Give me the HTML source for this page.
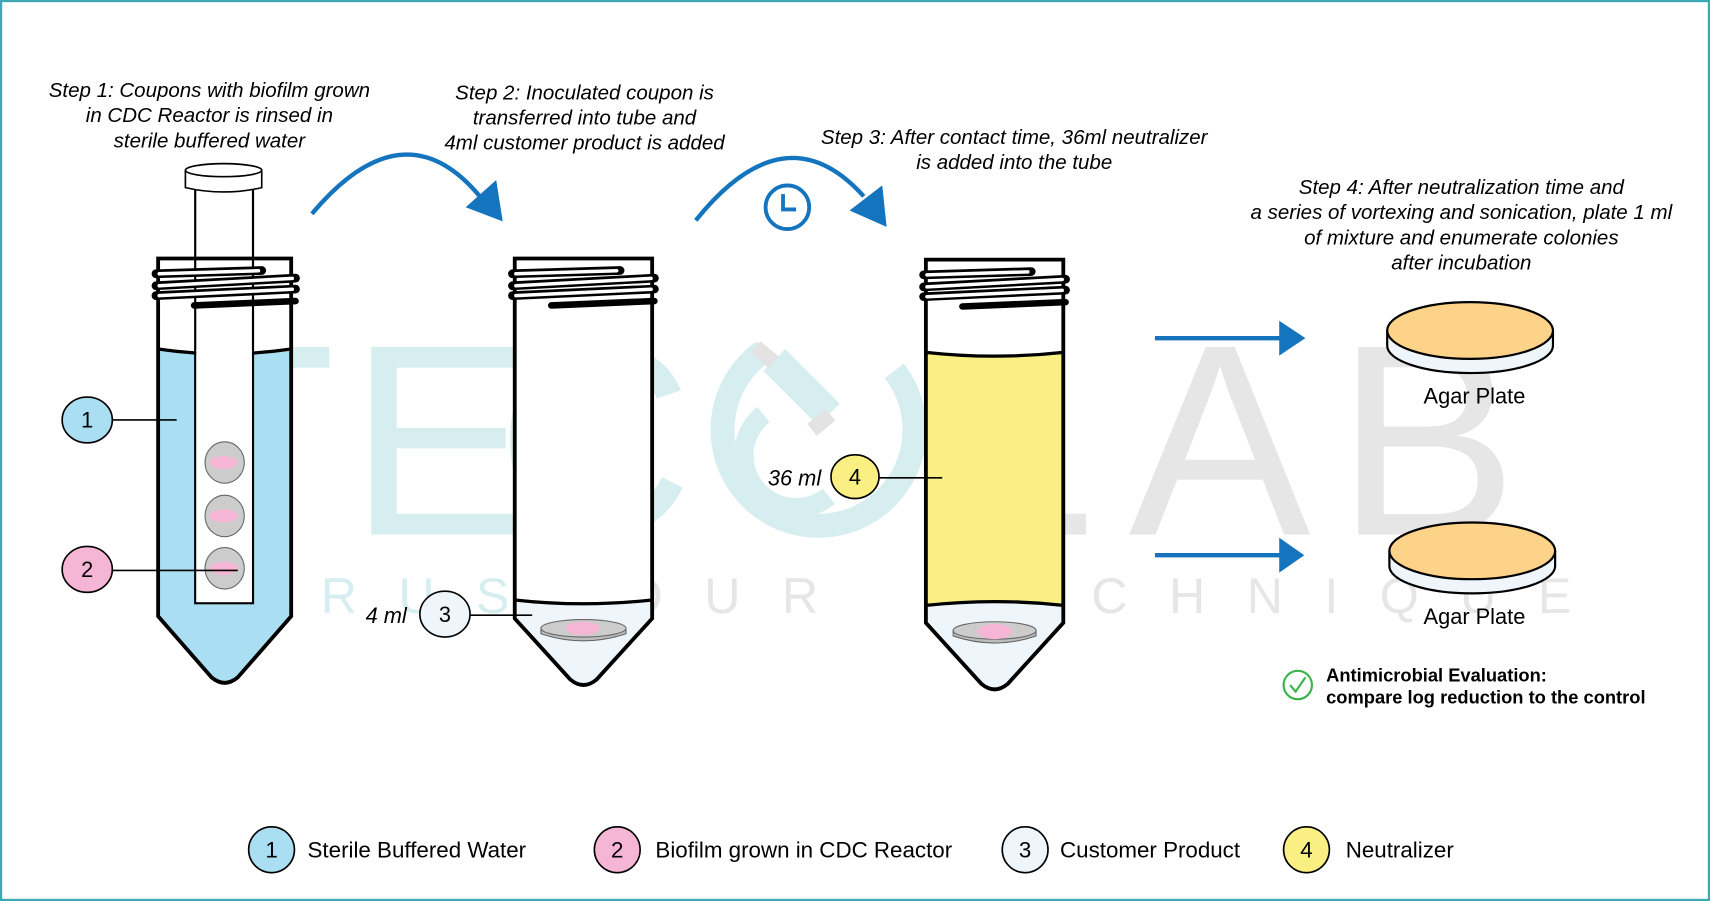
<!DOCTYPE html>
<html><head><meta charset="utf-8"><style>
html,body{margin:0;padding:0;background:#fff;}
svg{display:block;}
text{font-family:"Liberation Sans",sans-serif;}
</style></head><body>
<svg width="1710" height="901" viewBox="0 0 1568 826" preserveAspectRatio="none" xmlns="http://www.w3.org/2000/svg">
<defs>
<g id="threads">
 <g stroke="#000" stroke-width="8" stroke-linecap="round" fill="none">
  <path d="M-2,14 L95,11"/><path d="M-2,25 L126,18"/><path d="M-2,34 L126,28"/>
 </g>
 <g stroke="#fff" stroke-width="3.2" stroke-linecap="round" fill="none">
  <path d="M1,14 L92,11.2"/><path d="M1,25 L123,18.2"/><path d="M1,34 L123,28.2"/>
 </g>
 <path d="M33,43 L126,39" stroke="#000" stroke-width="6" stroke-linecap="round"/>
</g>
</defs>
<rect x="1" y="1" width="1566" height="824" fill="#fff" stroke="#3aa9b4" stroke-width="2"/>

<!-- watermark -->
<g fill="#d7eef0" font-size="250">
 <text x="155" y="490">T</text>
 <text x="320" y="490">E</text>
 <text x="455" y="490">C</text>
</g>
<g fill="none" stroke="#d7eef0" stroke-width="22">
 <path d="M700,322 A88,88 0 1,0 820,340"/>
 <path d="M700,380 A42,42 0 1,0 760,455" stroke-width="18"/>
</g>
<path d="M700,340 L720,320 L770,370 L750,390 Z" fill="#d7eef0"/>
<rect x="742" y="380" width="22" height="14" fill="#e3e3e3" transform="rotate(-40 753 387)"/>
<rect x="690" y="318" width="22" height="14" fill="#e3e3e3" transform="rotate(40 701 325)"/>
<g fill="#e6e6e6" font-size="250">
 <text x="865" y="490">L</text>
 <text x="1035" y="490">A</text>
 <text x="1225" y="490">B</text>
</g>
<text x="228" y="562" font-size="46" fill="#d7eef0" letter-spacing="38">TRUST</text>
<text x="572" y="562" font-size="46" fill="#e6e6e6" letter-spacing="38">OUR</text>
<text x="866" y="562" font-size="46" fill="#e6e6e6" letter-spacing="38">TECHNIQUE</text>

<!-- step texts -->
<g font-size="18.8" font-style="italic" text-anchor="middle" fill="#000">
 <text x="192" y="89">Step 1: Coupons with biofilm grown</text>
 <text x="192" y="112">in CDC Reactor is rinsed in</text>
 <text x="192" y="135">sterile buffered water</text>
 <text x="536" y="91">Step 2: Inoculated coupon is</text>
 <text x="536" y="114">transferred into tube and</text>
 <text x="536" y="137">4ml customer product is added</text>
 <text x="930" y="132">Step 3: After contact time, 36ml neutralizer</text>
 <text x="930" y="155">is added into the tube</text>
 <text x="1340" y="178">Step 4: After neutralization time and</text>
 <text x="1340" y="201">a series of vortexing and sonication, plate 1 ml</text>
 <text x="1340" y="224">of mixture and enumerate colonies</text>
 <text x="1340" y="247">after incubation</text>
</g>

<!-- curved arrows -->
<path d="M286,196 Q370,96 440,180" fill="none" stroke="#1474bd" stroke-width="4"/>
<polygon points="427,190 455,165 461,203" fill="#1474bd"/>
<path d="M638,202 Q720,100 792,180" fill="none" stroke="#1474bd" stroke-width="4"/>
<polygon points="779,193 809,170 813,208" fill="#1474bd"/>
<circle cx="722" cy="190" r="20" fill="none" stroke="#1474bd" stroke-width="3.5"/>
<path d="M718,178 V192 H730" fill="none" stroke="#1474bd" stroke-width="3.5"/>

<!-- Tube 1 -->
<g transform="translate(145,237)">
 <path d="M0,0 H122 V328 L73,384 Q61,394 49,384 L0,328 Z" fill="#fff"/>
 <path d="M0,83 Q61,92 122,83 V328 L73,384 Q61,394 49,384 L0,328 Z" fill="#aadff3"/>
 <path d="M0,83 Q61,92 122,83" fill="none" stroke="#000" stroke-width="3"/>
 <path d="M0,0 H122 V328 L73,384 Q61,394 49,384 L0,328 Z" fill="none" stroke="#000" stroke-width="3.5"/>
</g>
<rect x="179" y="172" width="53" height="381" fill="none" stroke="#000" stroke-width="2"/>
<rect x="180" y="320" width="51" height="232" fill="#fff"/>
<path d="M170,156 V172 Q205,180 240,172 V156" fill="#fff" stroke="#000" stroke-width="1.5"/>
<ellipse cx="205" cy="156" rx="35" ry="6" fill="#fff" stroke="#000" stroke-width="1.5"/>
<use href="#threads" x="145" y="237"/>
<g stroke="#666" stroke-width="1">
 <ellipse cx="206" cy="424" rx="18" ry="19" fill="#cccccc"/>
 <ellipse cx="206" cy="473" rx="18" ry="19" fill="#cccccc"/>
 <ellipse cx="206" cy="521" rx="18" ry="19" fill="#cccccc"/>
</g>
<g fill="#f4b6d4">
 <ellipse cx="205" cy="424" rx="13" ry="6"/><ellipse cx="205" cy="473" rx="13" ry="6"/><ellipse cx="205" cy="521" rx="13" ry="6"/>
</g>
<!-- callouts 1,2 -->
<line x1="103" y1="385" x2="162" y2="385" stroke="#000" stroke-width="1.5"/>
<ellipse cx="80" cy="385" rx="23" ry="21" fill="#aadff3" stroke="#000" stroke-width="1.5"/>
<text x="80" y="392" font-size="20" text-anchor="middle">1</text>
<line x1="103" y1="523" x2="218" y2="523" stroke="#000" stroke-width="1.5"/>
<ellipse cx="80" cy="522" rx="23" ry="21" fill="#f4b6d4" stroke="#000" stroke-width="1.5"/>
<text x="80" y="529" font-size="20" text-anchor="middle">2</text>

<!-- Tube 2 -->
<g transform="translate(472,237)">
 <path d="M0,0 H126 V330 L75,386 Q63,396 51,386 L0,330 Z" fill="#fff"/>
 <path d="M0,313 Q63,320 126,313 V330 L75,386 Q63,396 51,386 L0,330 Z" fill="#eef6fc"/>
 <path d="M0,313 Q63,320 126,313" fill="none" stroke="#000" stroke-width="3"/>
 <path d="M0,0 H126 V330 L75,386 Q63,396 51,386 L0,330 Z" fill="none" stroke="#000" stroke-width="3.5"/>
 <use href="#threads" transform="scale(1.016,1)"/>
</g>
<path d="M496,576 V581 Q535,594 574,581 V576" fill="#bdbdbd" stroke="#666" stroke-width="1"/>
<ellipse cx="535" cy="576" rx="39" ry="8" fill="#cccccc" stroke="#666" stroke-width="1"/>
<ellipse cx="534" cy="576" rx="16" ry="6" fill="#f4b6d4"/>
<line x1="430" y1="564" x2="488" y2="564" stroke="#000" stroke-width="1.5"/>
<ellipse cx="408" cy="563" rx="23" ry="21" fill="#eef6fc" stroke="#000" stroke-width="1.5"/>
<text x="408" y="570" font-size="20" text-anchor="middle">3</text>
<text x="373" y="571" font-size="20" font-style="italic" text-anchor="end">4 ml</text>

<!-- Tube 3 -->
<g transform="translate(849,238)">
 <path d="M0,0 H126 V333 L75,389 Q63,399 51,389 L0,333 Z" fill="#fff"/>
 <path d="M0,85 Q63,92 126,85 V317 Q63,312 0,317 Z" fill="#f9ef82"/>
 <path d="M0,317 Q63,312 126,317 V333 L75,389 Q63,399 51,389 L0,333 Z" fill="#eef6fc"/>
 <path d="M0,85 Q63,92 126,85" fill="none" stroke="#000" stroke-width="3"/>
 <path d="M0,317 Q63,310 126,317" fill="none" stroke="#000" stroke-width="3"/>
 <path d="M0,0 H126 V333 L75,389 Q63,399 51,389 L0,333 Z" fill="none" stroke="#000" stroke-width="3.5"/>
 <use href="#threads" transform="scale(1.016,1)"/>
</g>
<path d="M874,578 V583 Q912,596 950,583 V578" fill="#bdbdbd" stroke="#666" stroke-width="1"/>
<ellipse cx="912" cy="578" rx="38" ry="8" fill="#cccccc" stroke="#666" stroke-width="1"/>
<ellipse cx="912" cy="579" rx="16" ry="7" fill="#f4b6d4"/>
<line x1="806" y1="438" x2="864" y2="438" stroke="#000" stroke-width="1.5"/>
<ellipse cx="784" cy="437" rx="22" ry="20" fill="#f9ef82" stroke="#000" stroke-width="1.5"/>
<text x="784" y="444" font-size="20" text-anchor="middle">4</text>
<text x="753" y="445" font-size="20" font-style="italic" text-anchor="end">36 ml</text>

<!-- horizontal arrows -->
<line x1="1059" y1="310" x2="1178" y2="310" stroke="#1474bd" stroke-width="4"/>
<polygon points="1173,294 1197,310 1173,326" fill="#1474bd"/>
<line x1="1059" y1="509" x2="1178" y2="509" stroke="#1474bd" stroke-width="4"/>
<polygon points="1173,493 1196,509 1173,525" fill="#1474bd"/>

<!-- plates -->
<g stroke="#000" stroke-width="2">
 <path d="M1272,303 V317 A76,25 0 0,0 1424,317 V303" fill="#eef6fc"/>
 <ellipse cx="1348" cy="303" rx="76" ry="26" fill="#fdd38a"/>
 <path d="M1274,505 V519 A76,25 0 0,0 1426,519 V505" fill="#eef6fc"/>
 <ellipse cx="1350" cy="505" rx="76" ry="26" fill="#fdd38a"/>
</g>
<text x="1352" y="370" font-size="20" text-anchor="middle">Agar Plate</text>
<text x="1352" y="572" font-size="20" text-anchor="middle">Agar Plate</text>

<!-- evaluation -->
<circle cx="1190" cy="628" r="13" fill="none" stroke="#3cb54a" stroke-width="2"/>
<path d="M1183,628 L1188,634 L1197,621" fill="none" stroke="#3cb54a" stroke-width="2"/>
<text x="1216" y="625" font-size="16.8" font-weight="bold">Antimicrobial Evaluation:</text>
<text x="1216" y="645" font-size="16.8" font-weight="bold">compare log reduction to the control</text>

<!-- legend -->
<g stroke="#000" stroke-width="1.5">
 <ellipse cx="249" cy="779" rx="21" ry="21" fill="#aadff3"/>
 <ellipse cx="566" cy="779" rx="21" ry="21" fill="#f4b6d4"/>
 <ellipse cx="940" cy="779" rx="21" ry="21" fill="#eef6fc"/>
 <ellipse cx="1198" cy="779" rx="21" ry="21" fill="#f9ef82"/>
</g>
<g font-size="20.5">
 <text x="249" y="786" text-anchor="middle">1</text>
 <text x="566" y="786" text-anchor="middle">2</text>
 <text x="940" y="786" text-anchor="middle">3</text>
 <text x="1198" y="786" text-anchor="middle">4</text>
 <text x="282" y="786">Sterile Buffered Water</text>
 <text x="601" y="786">Biofilm grown in CDC Reactor</text>
 <text x="972" y="786">Customer Product</text>
 <text x="1234" y="786">Neutralizer</text>
</g>
</svg>
</body></html>
